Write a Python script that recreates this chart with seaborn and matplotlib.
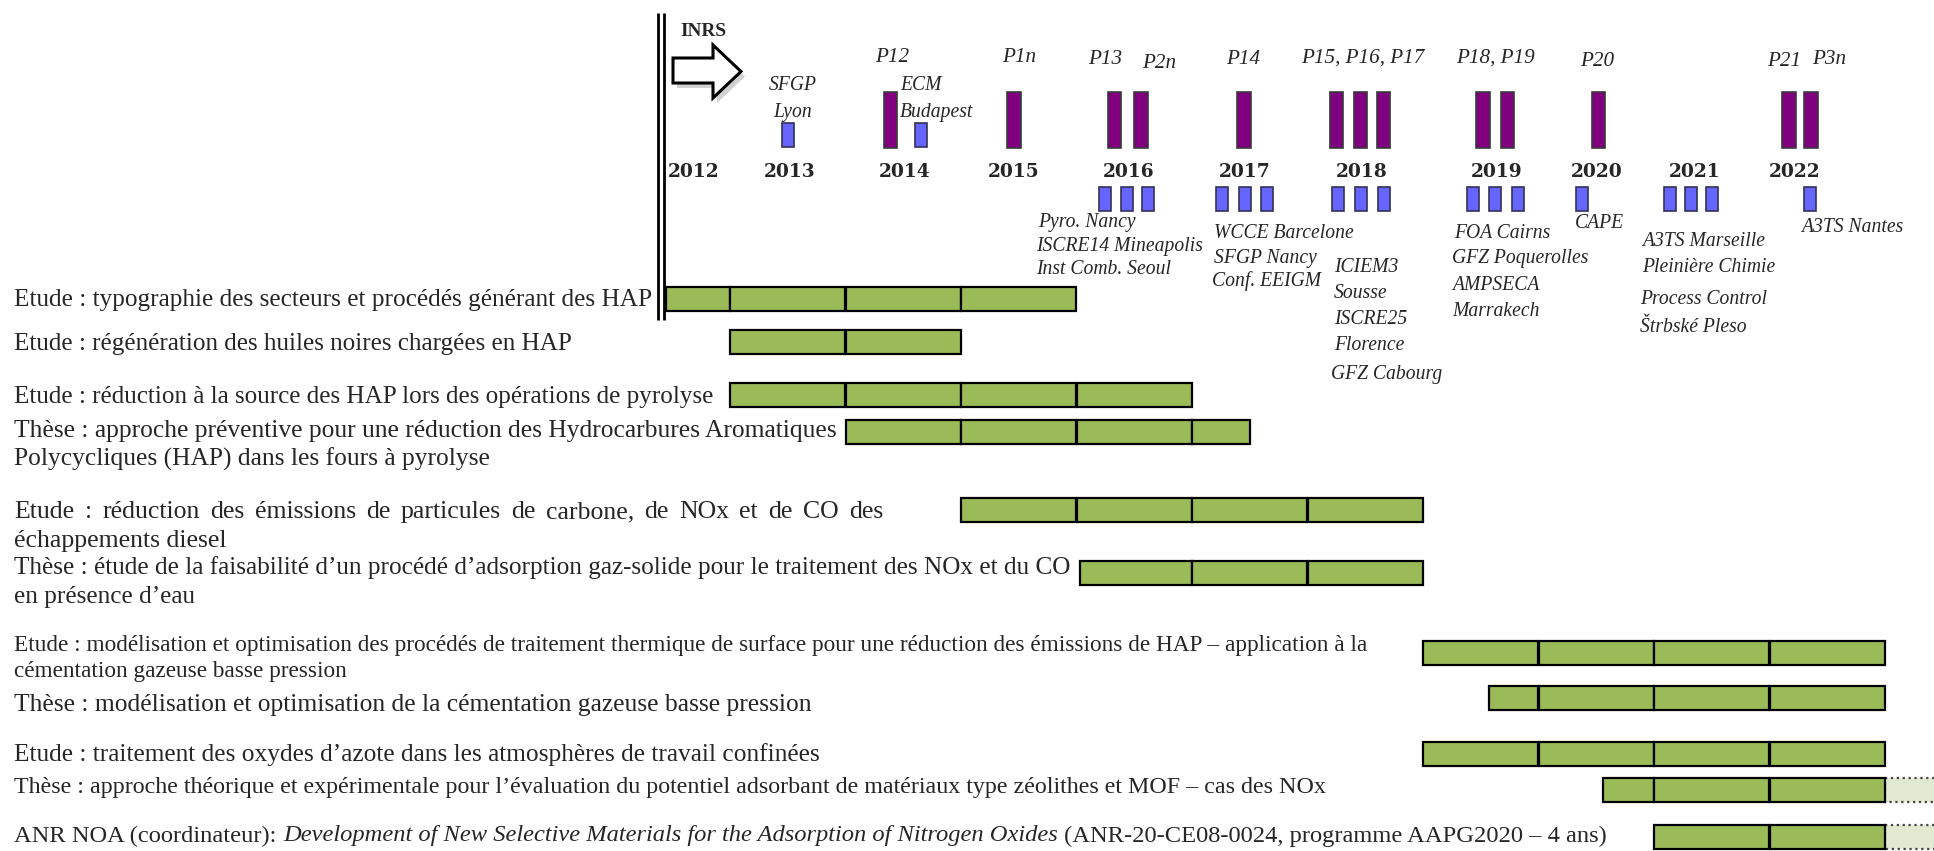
import matplotlib
matplotlib.use("Agg")
import matplotlib.pyplot as plt
import seaborn as sns
import pandas as pd
from matplotlib.patches import Polygon

# --- 1. DONNÉES ---
annees = [2012, 2013, 2014, 2015, 2016, 2017, 2018, 2019, 2020, 2021, 2022]

# projets : début / fin (en années), prolongation éventuelle (zone claire)
proj_debut = [2012.45, 2013.0, 2013.0, 2014.0, 2015.0, 2016.03, 2019.0, 2019.57, 2019.0, 2020.56, 2021.0]
proj_fin = [2016.0, 2015.0, 2017.0, 2017.5, 2019.0, 2019.0, 2023.0, 2023.0, 2023.0, 2023.0, 2023.0]
proj_prolong = [None, None, None, None, None, None, None, None, None, 2024.0, 2025.0]

# publications (barres violettes) et conférences (barres bleues)
pub_date = [2014.39, 2015.46, 2016.33, 2016.56, 2017.45, 2018.25, 2018.46, 2018.66,
            2019.52, 2019.73, 2020.52, 2022.17, 2022.36]
pub_nom = ["P12", "P1n", "P13", "P2n", "P14", "P15", "P16", "P17",
           "P18", "P19", "P20", "P21", "P3n"]
conf_date = [2013.50, 2014.65,
             2016.25, 2016.44, 2016.62, 2017.26, 2017.46, 2017.65,
             2018.26, 2018.46, 2018.66, 2019.43, 2019.62, 2019.82,
             2020.38, 2021.14, 2021.32, 2021.50, 2022.35]
conf_haut = [True, True] + [False] * 17

# --- 2. MISE EN PAGE ---
W, H = 1934, 851


def px2an(px):
    return 2013 + (px - 730) / 115.5


sns.set_theme(style="white")
plt.rcParams['font.family'] = ['Liberation Serif', 'DejaVu Serif']

fig = plt.figure(figsize=(W / 100, H / 100), dpi=100)
ax = fig.add_axes([0, 0, 1, 1])
ax.set_xlim(px2an(0), px2an(W))
ax.set_ylim(H, 0)
ax.axis('off')
renderer = fig.canvas.get_renderer()


def mesure(s, fs, **kw):
    t = ax.text(0, 0, s, fontsize=fs, **kw)
    w = t.get_window_extent(renderer).width
    t.remove()
    return w


def taille(s, largeur, **kw):
    return 10 * largeur / mesure(s, 10, **kw)


def justifie(x0, x1, y, s, fs, **kw):
    mots = s.split()
    larg = [mesure(m, fs, **kw) for m in mots]
    gap = (x1 - x0 - sum(larg)) / (len(mots) - 1)
    x = x0
    for m, w in zip(mots, larg):
        ax.text(px2an(x), y, m, fontsize=fs, va='center', ha='left', **kw)
        x += w + gap


# barres vertes découpées par année
seg = []
row_y = [299, 341.5, 395, 432, 510, 573, 653, 698, 754, 790, 837]
for i, (d, f) in enumerate(zip(proj_debut, proj_fin)):
    bornes = [d] + [a for a in range(2013, 2024) if d < a < f] + [f]
    for a, b in zip(bornes[:-1], bornes[1:]):
        seg.append({'y': row_y[i], 'left': a, 'width': b - a})
df_seg = pd.DataFrame(seg)
ax.barh(df_seg['y'], df_seg['width'], left=df_seg['left'], height=24,
        color='#9BBB59', edgecolor='black', linewidth=1.6, zorder=3)
for i, p in enumerate(proj_prolong):
    if p is not None:
        ax.barh(row_y[i], p - proj_fin[i], left=proj_fin[i], height=24,
                color='#E1EAD1', edgecolor='#444444', linestyle=':', linewidth=1.6, zorder=2)

# publications
ax.bar(pub_date, 56, bottom=92, width=0.117, color='#800080', edgecolor='#3a3a3a',
       linewidth=1.2, zorder=3)
# conférences
bas = [123 if h else 187 for h in conf_haut]
ax.bar(conf_date, 24, bottom=bas, width=0.104, color='#6666FF', edgecolor='#333355',
       linewidth=1.2, zorder=3)

# double trait INRS + flèche
ax.vlines([px2an(657.5), px2an(663.5)], 13, 320, color='black', linewidth=2, zorder=4)
fl = [(673, 58), (713, 58), (713, 45), (741, 71.5), (713, 98), (713, 83), (673, 83)]
ax.add_patch(Polygon([(px2an(x + 4), y + 5) for x, y in fl], closed=True,
                     facecolor='#999999', edgecolor='none', alpha=0.45, zorder=4))
ax.add_patch(Polygon([(px2an(x), y) for x, y in fl], closed=True,
                     facecolor='white', edgecolor='black', linewidth=2.2, zorder=5))
fs_inrs = taille("INRS", 46, fontweight='bold')
ax.text(px2an(703), 32, "INRS", fontsize=fs_inrs, fontweight='bold', ha='center', va='center')

# années
fs_an = taille("2012", 52, fontweight='bold', family='DejaVu Serif')
an_px = [694, 790, 905, 1014, 1129, 1245, 1362, 1497, 1597, 1695, 1795]
for a, x in zip(annees, an_px):
    ax.text(px2an(x), 172, str(a), fontsize=fs_an, fontweight='bold', family='DejaVu Serif',
            ha='center', va='center')

# étiquettes publications
fs_p = taille("P15, P16, P17", 124, style='italic')
p_lab = [("P12", 892, 58), ("P1n", 1019, 58), ("P13", 1105, 59), ("P2n", 1159, 63),
         ("P14", 1243, 59), ("P15, P16, P17", 1363, 58), ("P18, P19", 1495, 58),
         ("P20", 1597, 62), ("P21", 1784, 62), ("P3n", 1829, 60)]
for s, x, y in p_lab:
    ax.text(px2an(x), y, s, fontsize=fs_p, style='italic', ha='center', va='center')

# étiquettes conférences
fs_c = taille("ISCRE14 Mineapolis", 167, style='italic')
c_lab = [("SFGP", 793, 85, 'center'), ("Lyon", 793, 112, 'center'),
         ("ECM", 900, 85, 'left'), ("Budapest", 900, 112, 'left'),
         ("Pyro. Nancy", 1038, 222, 'left'), ("ISCRE14 Mineapolis", 1036, 246, 'left'),
         ("Inst Comb. Seoul", 1036, 270, 'left'),
         ("WCCE Barcelone", 1214, 234, 'left'), ("SFGP Nancy", 1214, 259, 'left'),
         ("Conf. EEIGM", 1212, 281, 'left'),
         ("ICIEM3", 1334, 267, 'left'), ("Sousse", 1334, 293, 'left'),
         ("ISCRE25", 1334, 319, 'left'), ("Florence", 1334, 346, 'left'),
         ("GFZ Cabourg", 1331, 374, 'left'),
         ("FOA Cairns", 1454, 233, 'left'), ("GFZ Poquerolles", 1452, 259, 'left'),
         ("AMPSECA", 1452, 286, 'left'), ("Marrakech", 1452, 312, 'left'),
         ("CAPE", 1575, 224, 'left'),
         ("A3TS Marseille", 1642, 241, 'left'), ("Pleinière Chimie", 1642, 267, 'left'),
         ("Process Control", 1640, 300, 'left'), ("Štrbské Pleso", 1640, 327, 'left'),
         ("A3TS Nantes", 1801, 228, 'left')]
for s, x, y, ha in c_lab:
    ax.text(px2an(x), y, s, fontsize=fs_c, style='italic', ha=ha, va='center')

# libellés des projets
X0 = 14.5
lib = [
    (["Etude : typographie des secteurs et procédés générant des HAP"], [300], 653),
    (["Etude : régénération des huiles noires chargées en HAP"], [344], 573),
    (["Etude : réduction à la source des HAP lors des opérations de pyrolyse"], [397.5], 714),
    (["Thèse : approche préventive pour une réduction des Hydrocarbures Aromatiques",
      "Polycycliques (HAP) dans les fours à pyrolyse"], [431, 459], 836),
    (["Thèse : étude de la faisabilité d’un procédé d’adsorption gaz-solide pour le traitement des NOx et du CO",
      "en présence d’eau"], [568, 596.5], 1071),
    (["Etude : modélisation et optimisation des procédés de traitement thermique de surface pour une réduction des émissions de HAP – application à la",
      "cémentation gazeuse basse pression"], [645, 672], 1369),
    (["Thèse : modélisation et optimisation de la cémentation gazeuse basse pression"], [705.5], 812),
    (["Etude : traitement des oxydes d’azote dans les atmosphères de travail confinées"], [755], 821),
    (["Thèse : approche théorique et expérimentale pour l’évaluation du potentiel adsorbant de matériaux type zéolithes et MOF – cas des NOx"], [787], 1328),
]
for lignes, ys, droite in lib:
    fs = taille(lignes[0], droite - X0)
    for s, y in zip(lignes, ys):
        ax.text(px2an(X0), y, s, fontsize=fs, ha='left', va='center')

# ligne justifiée
fs5 = taille("échappements diesel", 227 - X0)
justifie(X0, 883, 512, "Etude : réduction des émissions de particules de carbone, de NOx et de CO des", fs5)
ax.text(px2an(X0), 540.5, "échappements diesel", fontsize=fs5, ha='left', va='center')

# ligne ANR (mélange droit / italique)
morceaux = [("ANR NOA (coordinateur):", 'normal'),
            ("Development of New Selective Materials for the Adsorption of Nitrogen Oxides", 'italic'),
            ("(ANR-20-CE08-0024, programme AAPG2020 – 4 ans)", 'normal')]
esp = mesure("a a", 10) - mesure("aa", 10)
tot = sum(mesure(s, 10, style=st) for s, st in morceaux) + 2 * esp
fs11 = 10 * (1610 - X0) / tot
x = X0
for s, st in morceaux:
    ax.text(px2an(x), 836, s, fontsize=fs11, style=st, ha='left', va='center')
    x += mesure(s, fs11, style=st) + esp * fs11 / 10

plt.savefig('out.png', dpi=100)
